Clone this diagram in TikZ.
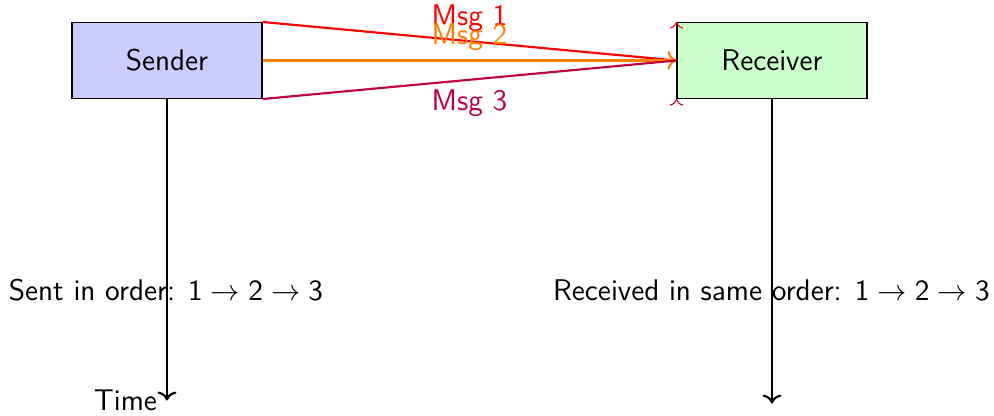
\documentclass[tikz,border=0pt]{standalone}
\usetikzlibrary{arrows.meta}
\renewcommand{\familydefault}{\sfdefault}
\newcommand{\labelsize}{\fontsize{11.2}{13.5}\selectfont}
\newcommand{\ordseq}{$\mathsf{1} \rightarrow \mathsf{2} \rightarrow \mathsf{3}$}
\begin{document}
\begin{tikzpicture}[
  party/.style={draw, minimum width=2.5cm, minimum height=1cm, font=\labelsize},
  msg/.style={thick},
  lifeline/.style={thick, ->},
  caption/.style={font=\labelsize}
]
\useasboundingbox (0,0) rectangle (13.079,-5.461);

% the two communicating parties
\node[party, fill=blue!20]  (sender)   at (2.197,-0.796)  {Sender};
\node[party, fill=green!20] (receiver) at (10.158,-0.796) {Receiver};

% time axes below each party
\coordinate (send end) at (2.197,-5.27);
\coordinate (recv end) at (10.158,-5.31);
\draw[lifeline] (sender.south) -- (send end) node[left, caption] {Time};
\draw[lifeline] (receiver.south) -- (recv end);

% the three messages
\draw[msg, red] (sender.north east) -- node[above, caption] {Msg 1} (receiver.west);
\draw[msg, orange, ->] (sender.east) -- node[above, caption] {Msg 2} (receiver.west);
\draw[msg, purple] (sender.south east) -- node[below, caption] {Msg 3} (receiver.west);
\draw[red, ->] ([yshift=-0.5pt]receiver.north west) -- (receiver.north west);
\draw[purple, ->] ([yshift=-0.5pt]receiver.south west) -- (receiver.south west);

% ordering notes
\node[caption] (sent note) at (2.184,-3.816) {Sent in order: \ordseq};
\node[caption] (recv note) at (10.15,-3.816) {Received in same order: \ordseq};
\end{tikzpicture}
\end{document}
